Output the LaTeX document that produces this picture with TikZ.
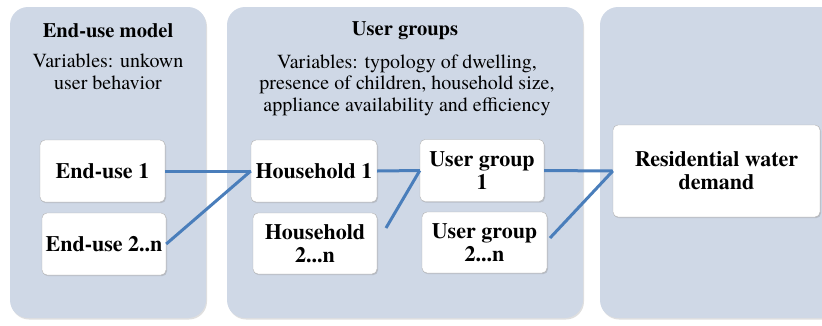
\documentclass[tikz,border=0pt]{standalone}
\usepackage{fontspec}
\setmainfont{texgyretermes}[Extension=.otf, UprightFont=*-regular, BoldFont=*-bold, ItalicFont=*-italic, BoldItalicFont=*-bolditalic]
\usetikzlibrary{shadows}
\definecolor{panelfill}{RGB}{207,216,230}
\definecolor{linkblue}{RGB}{74,126,187}

\begin{document}
\begin{tikzpicture}[x=1pt, y=-1pt, line join=round, line cap=round,
	panel/.style={fill=panelfill, rounded corners=18pt, drop shadow={shadow xshift=1pt, shadow yshift=-1.5pt, opacity=0.25}},
	box/.style={draw=gray!60, fill=white, rounded corners=5pt, thin, align=center, inner sep=0pt,
		font=\fontsize{22}{23}\selectfont\bfseries, drop shadow={shadow xshift=1pt, shadow yshift=-1.2pt, opacity=0.3}},
	title/.style={font=\fontsize{20.5}{22}\selectfont\bfseries, align=center},
	vars/.style={font=\fontsize{20}{21.5}\selectfont, align=center},
	link/.style={draw=linkblue, line width=3pt, line cap=butt}]
	\useasboundingbox (0,0) rectangle (822,325);
	
	% three columns
	\path[panel] (10,7) rectangle (206,318);
	\path[panel] (227,7) rectangle (583,318);
	\path[panel] (600,7) rectangle (845,318);
	
	\node[title] (tEnd) at (108,31) {End-use model};
	\node[vars] (vEnd) at (108,72) {Variables: unkown\\user behavior};
	\node[title] (tUser) at (405,31) {User groups};
	\node[vars] (vUser) at (407,85) {Variables: typology of dwelling,\\presence of children, household size,\\appliance availability and efficiency};
	
	% boxes
	\node[box, minimum width=125pt, minimum height=62pt] (eu1) at (102.5,171) {End-use 1};
	\node[box, minimum width=124pt, minimum height=62pt] (eu2) at (104,244) {End-use 2..n};
	\node[box, minimum width=126pt, minimum height=62pt] (hh1) at (314,171) {Household 1};
	\node[box, minimum width=124pt, minimum height=61pt] (hh2) at (315,243.5) {Household\\2...n};
	\node[box, minimum width=124pt, minimum height=62pt] (ug1) at (482,170.5) {User group\\1};
	\node[box, minimum width=125pt, minimum height=61pt] (ug2) at (484.5,242.5) {User group\\2...n};
	\node[box, minimum width=207pt, minimum height=92pt] (res) at (716.5,171) {Residential water\\demand};
	
	% connectors
	\coordinate (hh2end) at (386,228);
	\coordinate (ug2end) at (550,238);
	\draw[link] (eu1.east) -- (hh1.west);
	\draw[link] (eu2.east) -- (hh1.west);
	\draw[link] (hh1.east) -- (ug1.west);
	\draw[link] (hh2end) -- (ug1.west);
	\draw[link] (ug1.east) -- (res.west);
	\draw[link] (ug2end) -- (res.west);
\end{tikzpicture}
\end{document}
